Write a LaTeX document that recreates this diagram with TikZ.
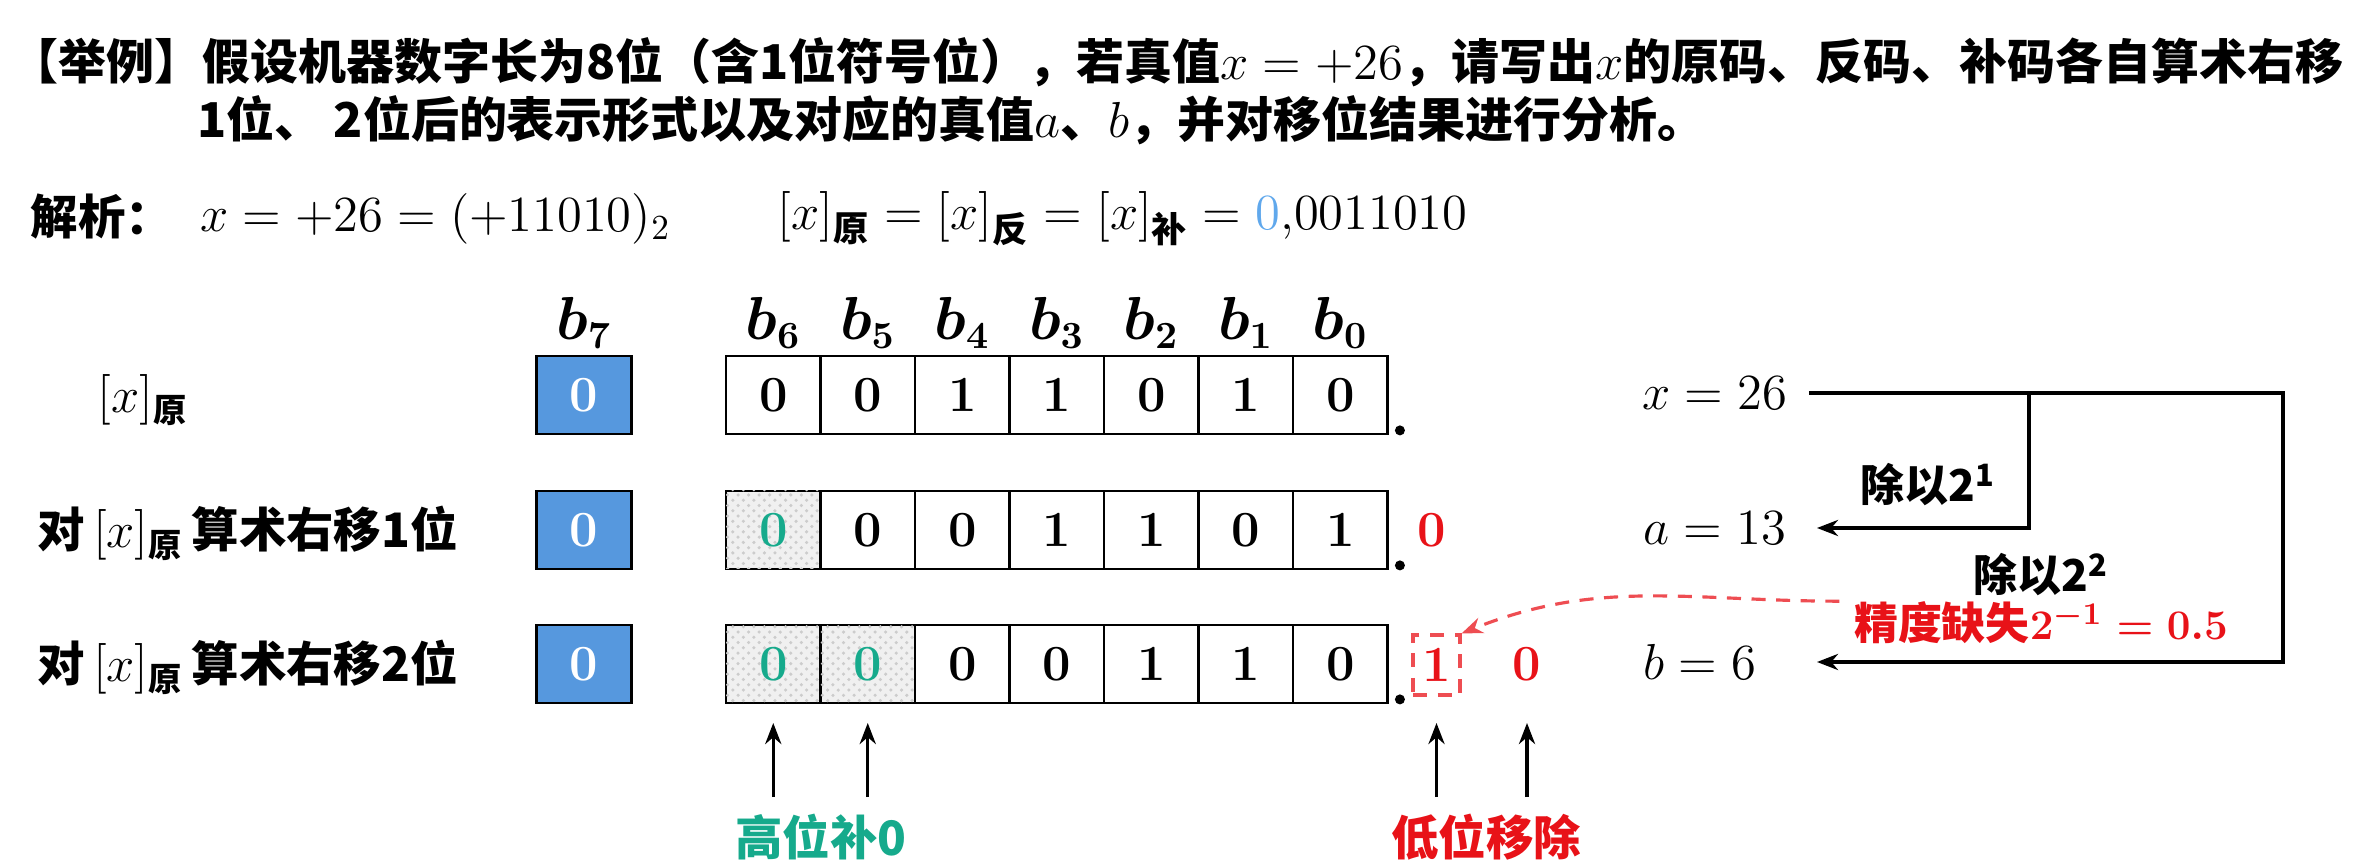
\documentclass[tikz,border=0pt]{standalone}
\usepackage{amsmath}
\usepackage{fontspec}
\setmainfont{Noto Sans CJK SC}
\usepackage{tikz}
\usetikzlibrary{arrows.meta, positioning, calc, patterns}

\definecolor{signblue}{RGB}{86,152,222}
\definecolor{hintblue}{RGB}{96,168,236}
\definecolor{fillteal}{RGB}{22,170,140}
\definecolor{lossred}{RGB}{232,18,24}

\newcommand{\bitfont}{\fontsize{14pt}{16pt}\selectfont\boldmath}
\newcommand{\taskfont}{\fontsize{13.65pt}{16pt}\selectfont\bfseries}
\newcommand{\notefont}{\fontsize{12.5pt}{15pt}\selectfont\bfseries}

\tikzset{
  txt/.style={inner sep=0pt},
  bitcell/.style={draw, line width=0.8pt, minimum width=0.945cm, minimum height=0.78cm, inner sep=0pt, font=\bitfont},
  signcell/.style={bitcell, fill=signblue, text=white},
  padcell/.style={bitcell, fill=black!6, postaction={pattern=crosshatch dots, pattern color=black!20}, text=fillteal},
  conn/.style={line width=0.9pt, ->},
  lossdash/.style={draw=lossred!75, dashed, line width=0.9pt, dash pattern=on 4pt off 3pt}
}

\begin{document}
\begin{tikzpicture}[>={Stealth[length=6pt,width=4.6pt]}, font=\fontsize{13.5pt}{16pt}\selectfont\bfseries]
      \useasboundingbox (0,0) rectangle (23.73,-8.64);

      % question
      \node[txt, anchor=west, font=\taskfont] (task1) at (0.10,-0.62) {【举例】假设机器数字长为8位（含1位符号位），若真值$x=+26$，请写出$x$的原码、反码、补码各自算术右移};
      \node[txt, anchor=west, font=\taskfont] (task2) at (1.97,-1.20) {1位、 2位后的表示形式以及对应的真值$a$、$b$，并对移位结果进行分析。};

      \node[txt, anchor=west] (jiexi) at (0.30,-2.17) {解析：};
      \node[txt, anchor=west, font=\fontsize{14.5pt}{16pt}\selectfont] (xbin) at (2.00,-2.19) {$x=+26=(+11010)_2$};
      \node[txt, anchor=west, font=\fontsize{14.3pt}{16pt}\selectfont\bfseries] (codes) at (7.77,-2.19) {$[x]_{\text{原}}=[x]_{\text{反}}=[x]_{\text{补}}=\textcolor{hintblue}{0}{,}0011010$};

      % bit names
      \node[font=\fontsize{16pt}{18pt}\selectfont\boldmath] (b7) at (5.84,-3.23) {$b_7$};
      \foreach \i [count=\n from 0] in {6,5,4,3,2,1,0}
        \node[font=\fontsize{16pt}{18pt}\selectfont\boldmath] (b\i) at ({7.7325+0.945*\n},-3.23) {$b_{\i}$};

      % rows
      \node[txt] (lab1) at (1.43,-4.00) {$[x]_{\text{原}}$};
      \node[txt, anchor=west] (lab2) at (0.37,-5.33) {对\,$[x]_{\text{原}}$\,算术右移1位};
      \node[txt, anchor=west] (lab3) at (0.37,-6.67) {对\,$[x]_{\text{原}}$\,算术右移2位};

      \node[signcell] (r1-s) at (5.84,-3.95) {$0$};
      \node[signcell] (r2-s) at (5.84,-5.30) {$0$};
      \node[signcell] (r3-s) at (5.84,-6.64) {$0$};
      \foreach \sty/\bit [count=\n from 0] in {bitcell/0,bitcell/0,bitcell/1,bitcell/1,bitcell/0,bitcell/1,bitcell/0}
        \node[\sty] (r1-\n) at ({7.7325+0.945*\n},-3.95) {$\bit$};
      \foreach \sty/\bit [count=\n from 0] in {padcell/0,bitcell/0,bitcell/0,bitcell/1,bitcell/1,bitcell/0,bitcell/1}
        \node[\sty] (r2-\n) at ({7.7325+0.945*\n},-5.30) {$\bit$};
      \foreach \sty/\bit [count=\n from 0] in {padcell/0,padcell/0,bitcell/0,bitcell/0,bitcell/1,bitcell/1,bitcell/0}
        \node[\sty] (r3-\n) at ({7.7325+0.945*\n},-6.64) {$\bit$};

      % binary points
      \foreach \r in {1,2,3}
        \fill ($(r\r-6.south east)+(0.11,0.05)$) circle (0.05);

      % shifted out bits
      \node[font=\bitfont, text=lossred] (out0) at (14.32,-5.30) {$0$};
      \node[lossdash, text=lossred, minimum width=0.47cm, minimum height=0.6cm, inner sep=0pt, font=\bitfont] (lost1) at (14.365,-6.65) {$1$};
      \node[font=\bitfont, text=lossred] (lost0) at (15.27,-6.64) {$0$};

      % true values
      \node[txt, anchor=west, font=\fontsize{14pt}{16pt}\selectfont] (xv) at (16.42,-3.93) {$x=26$};
      \node[txt, anchor=west, font=\fontsize{14pt}{16pt}\selectfont] (av) at (16.43,-5.28) {$a=13$};
      \node[txt, anchor=west, font=\fontsize{14pt}{16pt}\selectfont] (bv) at (16.43,-6.62) {$b=6$};

      \coordinate (rt) at (22.83,0);
      \coordinate (mid) at (20.29,0);
      \coordinate (tipx) at (18.17,0);
      \draw[conn] ([xshift=6pt]xv.east) -- (xv.east -| rt) -- (bv.east -| rt) -- (bv.east -| tipx);
      \draw[conn] (xv.east -| mid) -- (av.east -| mid) -- (av.east -| tipx);

      \node[txt, font=\notefont] (div1) at (19.28,-4.85) {除以2\textsuperscript{1}};
      \node[txt, font=\notefont] (div2) at (20.41,-5.75) {除以2\textsuperscript{2}};
      \node[txt, text=lossred, font=\notefont\boldmath] (loss) at (20.41,-6.23) {精度缺失$2^{-1}=0.5$};
      \draw[lossdash, ->] ([xshift=-4pt]loss.north west) to[out=180, in=22] (lost1.north east);

      % notes below
      \node[txt, text=fillteal] (padnote) at (8.21,-8.37) {高位补0};
      \node[txt, text=lossred] (dropnote) at (14.86,-8.37) {低位移除};
      \coordinate (tipy) at (0,-7.23);
      \coordinate (taily) at (0,-7.97);
      \foreach \c in {r3-0, r3-1, lost1, lost0}
        \draw[conn] (\c |- taily) -- (\c |- tipy);
\end{tikzpicture}
\end{document}
